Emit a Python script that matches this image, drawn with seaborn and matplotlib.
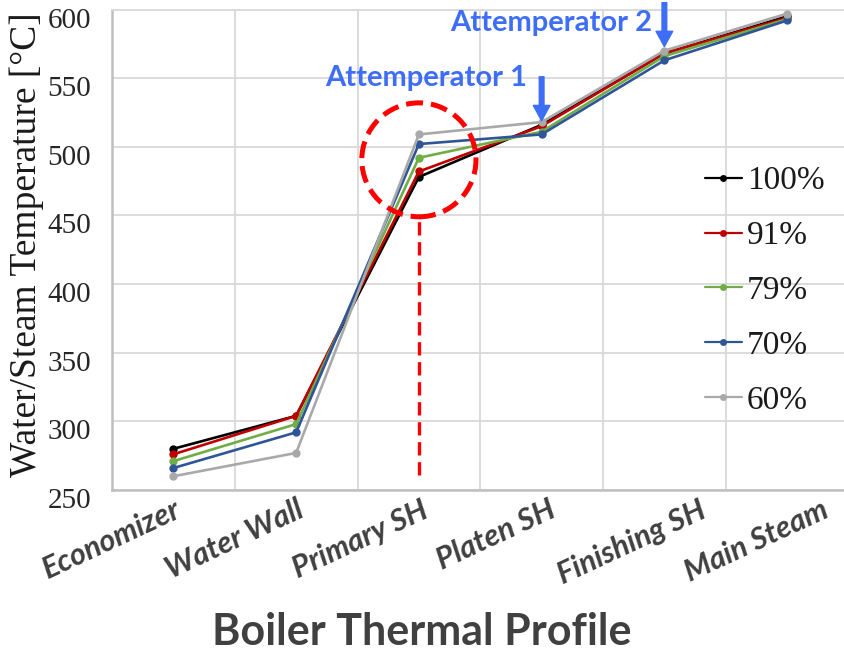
import matplotlib
matplotlib.use("Agg")
import matplotlib.pyplot as plt
import matplotlib.transforms as mtransforms
from matplotlib.lines import Line2D
from matplotlib.patches import Ellipse
import pandas as pd
import seaborn as sns

# Boiler stages along the flow path
stages = ["Economizer", "Water Wall", "Primary SH", "Platen SH", "Finishing SH", "Main Steam"]

# Boiler load cases
loads = ["100%", "91%", "79%", "70%", "60%"]

# Water/steam temperature [°C] at each stage, one list per load
temp_100 = [280, 304, 478, 516, 568, 595]
temp_91 = [276, 304, 482, 515, 568, 594]
temp_79 = [271, 298, 492, 511, 566, 593]
temp_70 = [266, 292, 502, 509, 563, 592]
temp_60 = [260, 277, 509, 518, 570, 597]

load_colors = ["#000000", "#c00000", "#70ad47", "#2f5597", "#a9a9a9"]
y_ticks = [250, 300, 350, 400, 450, 500, 550, 600]

series = [temp_100, temp_91, temp_79, temp_70, temp_60]
rows = []
for load, temps in zip(loads, series):
    for stage, t in zip(stages, temps):
        rows.append({"stage": stage, "load": load, "temp": t})
df = pd.DataFrame(rows)

sns.set_theme(style="white")

W, H = 844, 653
fig = plt.figure(figsize=(W / 100, H / 100), dpi=100)
ax = fig.add_axes([112 / W, 1 - 490 / H, (848.5 - 112) / W, (490 - 9.5) / H])

palette = dict(zip(loads, load_colors))
sns.lineplot(
    data=df, x="stage", y="temp", hue="load", hue_order=loads,
    palette=palette, marker="o", markersize=6, markeredgewidth=0,
    linewidth=1.9, sort=False, legend=False, ax=ax, zorder=3,
)

ax.set_xlim(-0.5, 5.5)
ax.set_ylim(250, 600)
ax.set_yticks(y_ticks)
ax.set_xticks(range(len(stages)))
ax.set_xticks([i - 0.5 for i in range(len(stages) + 1)], minor=True)

grid_kw = dict(color="#d9d9d9", linewidth=1.3)
ax.grid(False)
ax.grid(which="minor", axis="x", **grid_kw)
ax.grid(which="major", axis="y", **grid_kw)
ax.set_axisbelow(True)

for side in ["left", "bottom"]:
    ax.spines[side].set_color("#bfbfbf")
    ax.spines[side].set_linewidth(1.8)
ax.spines["top"].set_color("#d9d9d9")
ax.spines["top"].set_linewidth(1.3)
ax.spines["right"].set_visible(False)

ax.set_xlabel("")
ax.set_ylabel("")
ax.tick_params(axis="both", which="both", length=0)
ax.tick_params(axis="y", pad=15)
ax.tick_params(axis="x", pad=4)

ax.set_yticklabels([str(v) for v in y_ticks], family="Liberation Serif",
                   fontsize=21, color="#262626")
ax.set_xticklabels(stages, rotation=25, ha="right", rotation_mode="anchor",
                   family="Lato", style="italic", weight="bold",
                   fontsize=22, color="#404040")

# y tick labels sit slightly below their gridlines
shift = mtransforms.ScaledTranslation(0, -8 / 100, fig.dpi_scale_trans)
for lab in ax.get_yticklabels():
    lab.set_transform(lab.get_transform() + shift)

# the later stage names drift a little to the right of their ticks
x_label_nudge = [0, 0, 2, 6, 34, 34]
for lab, dx in zip(ax.get_xticklabels(), x_label_nudge):
    lab.set_transform(lab.get_transform()
                      + mtransforms.ScaledTranslation(dx / 100, 0, fig.dpi_scale_trans))

fig.text(27 / W, 1 - 245 / H, "Water/Steam Temperature [°C]", rotation=90,
         ha="center", va="center", family="Liberation Serif", fontsize=27,
         color="#1a1a1a")

# Legend
handles = [Line2D([], [], color=c, marker="o", markersize=5, markeredgewidth=0,
                  linewidth=1.6) for c in load_colors]
ax.legend(handles, loads, loc="upper left",
          bbox_to_anchor=(705 / W, 1 - 166 / H), bbox_transform=fig.transFigure,
          frameon=False, borderpad=0, borderaxespad=0, handlelength=1.1,
          handletextpad=0.15, labelspacing=0.73,
          prop={"family": "Liberation Serif", "size": 24},
          labelcolor="#1a1a1a")

# Attemperator markers
blue = "#3d6ef5"
arrow_kw = dict(arrowstyle="simple,head_length=0.55,head_width=0.6,tail_width=0.17",
                color=blue, mutation_scale=20, shrinkA=0, shrinkB=0)
ax.annotate("", xy=(3, 519), xytext=(3, 551), arrowprops=arrow_kw,
            annotation_clip=False)
ax.annotate("", xy=(4, 573), xytext=(4, 605), arrowprops=arrow_kw,
            annotation_clip=False)
ax.text(2.88, 550, "Attemperator 1", ha="right", va="center", color=blue,
        family="Lato", weight="bold", fontsize=21)
ax.text(3.9, 590, "Attemperator 2", ha="right", va="center", color=blue,
        family="Lato", weight="bold", fontsize=21)

# Highlight of the primary superheater outlet
ring = Ellipse((2, 490.5), width=0.93, height=83, fill=False, edgecolor="#ff0000",
               linewidth=3.6, linestyle=(0, (3.4, 1.6)), zorder=5, clip_on=False)
ax.add_patch(ring)
ax.plot([2, 2], [261, 450], color="#ff0000", linewidth=2.4,
        linestyle=(0, (4, 2)), zorder=5)

fig.text(0.5, 1 - 632 / H, "Boiler Thermal Profile", ha="center", va="center",
         family="Lato", weight="bold", fontsize=31, color="#404040")

fig.savefig("out.png", dpi=100)
